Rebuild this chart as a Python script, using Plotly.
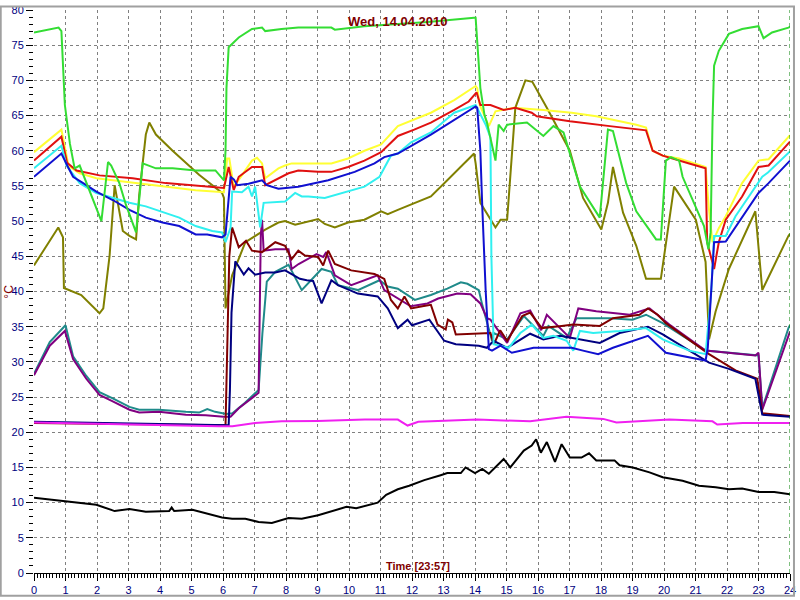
import plotly.graph_objects as go

# ---------------- data (hours, °C) ----------------
green_t = [0, 0.78, 0.87, 0.98, 1.14, 1.29, 1.45, 1.77, 2.14, 2.35, 2.45, 2.71, 2.92, 3.24, 3.45, 3.87, 4.4, 5.13, 5.76, 6.03, 6.08, 6.11, 6.18, 6.5, 6.92, 7.24, 7.34, 7.86, 8.39, 9.44, 9.55, 10.49, 11.55, 12.5, 13.97, 14.02, 14.17, 14.3, 14.38, 14.65, 14.75, 14.91, 15.02, 15.65, 16.17, 16.49, 16.81, 17.33, 17.96, 18.22, 18.38, 18.8, 19.12, 19.75, 19.9, 20.06, 20.22, 20.48, 20.59, 21.01, 21.27, 21.41, 21.48, 21.54, 21.59, 21.74, 22.06, 22.48, 23.0, 23.16, 23.43, 23.95, 24]
green_v = [76.8, 77.5, 77.0, 66.5, 61.0, 57.5, 57.9, 54.2, 50.0, 58.4, 57.9, 55.4, 52.3, 48.4, 58.2, 57.5, 57.5, 57.2, 57.2, 55.8, 60.0, 68.9, 74.7, 76.1, 77.3, 77.5, 77.0, 77.3, 77.5, 77.5, 77.2, 77.7, 78.0, 78.3, 78.9, 78.9, 68.9, 65.1, 64.0, 58.6, 63.7, 62.8, 63.7, 64.0, 62.1, 63.5, 62.6, 54.9, 50.5, 63.0, 62.8, 55.4, 51.4, 47.4, 47.4, 58.6, 59.1, 58.6, 56.3, 52.1, 49.3, 46.0, 48.4, 64.2, 72.1, 74.2, 76.6, 77.3, 77.7, 76.0, 76.8, 77.5, 77.6]

yellow_t = [0, 0.87, 1.1, 1.45, 1.98, 3.03, 4.08, 5.13, 6.03, 6.13, 6.2, 6.34, 6.6, 6.92, 7.08, 7.24, 7.34, 7.76, 7.97, 8.18, 9.44, 9.97, 10.49, 11.02, 11.55, 12.07, 12.6, 13.34, 14.02, 14.07, 14.15, 14.44, 14.65, 15.23, 16.17, 17.07, 17.85, 19.12, 19.43, 19.64, 19.96, 20.48, 21.32, 21.42, 21.54, 21.74, 21.96, 22.48, 23.0, 23.32, 23.95, 24]
yellow_v = [59.8, 63.0, 57.8, 56.8, 56.1, 55.5, 54.9, 54.4, 54.1, 58.9, 58.9, 54.9, 56.5, 58.6, 59.0, 58.2, 56.1, 57.5, 57.9, 58.2, 58.2, 58.9, 60.0, 60.9, 63.5, 64.4, 65.4, 67.2, 69.2, 68.9, 66.5, 63.5, 65.6, 66.1, 65.8, 65.4, 64.9, 63.7, 63.3, 60.0, 59.3, 58.9, 57.7, 52.0, 47.0, 49.0, 50.7, 55.4, 58.6, 58.8, 61.9, 62.2]

red_t = [0, 0.87, 1.05, 1.35, 2.08, 3.13, 4.18, 5.24, 6.03, 6.18, 6.34, 6.5, 6.92, 7.24, 7.34, 8.08, 8.39, 9.02, 9.44, 9.97, 10.49, 11.02, 11.55, 12.07, 12.6, 13.34, 13.8, 14.05, 14.17, 14.49, 14.91, 15.28, 15.8, 15.96, 17.01, 18.28, 19.43, 19.64, 19.96, 20.8, 21.32, 21.37, 21.59, 21.74, 21.96, 22.48, 23.0, 23.32, 23.95, 24]
red_v = [58.6, 62.0, 58.3, 57.2, 56.5, 56.1, 55.4, 55.0, 54.7, 57.7, 54.4, 56.3, 57.7, 57.7, 55.1, 56.8, 57.2, 57.0, 57.0, 57.7, 58.6, 59.8, 62.1, 63.0, 64.0, 65.8, 67.0, 68.3, 66.5, 66.5, 65.8, 66.1, 65.4, 64.9, 64.2, 63.5, 62.9, 60.0, 59.3, 58.2, 57.5, 47.0, 43.2, 47.0, 50.2, 53.5, 57.7, 57.9, 61.0, 61.3]

cyan_t = [0, 0.87, 1.03, 1.45, 1.98, 2.5, 3.03, 3.55, 4.08, 4.61, 5.13, 5.66, 5.97, 6.08, 6.24, 6.29, 6.6, 6.81, 6.92, 7.02, 7.18, 7.29, 7.97, 8.29, 8.5, 8.71, 9.23, 10.49, 10.97, 11.33, 11.55, 11.97, 12.6, 13.34, 14.02, 14.34, 14.49, 14.52, 14.59, 15.07, 15.44, 15.8, 16.17, 16.49, 16.91, 17.12, 17.33, 17.75, 18.59, 19.43, 19.96, 20.8, 21.32, 21.5, 21.59, 21.96, 22.27, 23.12, 23.3, 23.95, 24]
cyan_v = [57.5, 60.7, 57.9, 55.4, 54.0, 53.3, 52.6, 52.1, 51.3, 50.5, 49.3, 48.6, 48.4, 47.0, 49.1, 54.2, 54.1, 54.9, 53.5, 54.9, 49.1, 52.6, 52.8, 54.0, 53.5, 53.5, 53.3, 54.9, 56.3, 59.3, 59.6, 61.2, 62.6, 65.4, 66.5, 63.7, 61.9, 45.0, 32.5, 32.0, 34.1, 35.3, 33.4, 33.7, 33.0, 31.6, 34.4, 34.1, 34.4, 34.8, 33.2, 31.6, 31.1, 40.0, 47.9, 47.9, 50.7, 56.3, 56.9, 59.6, 59.9]

blue_t = [0, 0.87, 1.08, 1.24, 1.56, 1.98, 2.5, 3.03, 3.55, 4.08, 4.61, 5.13, 5.5, 5.97, 6.08, 6.15, 6.24, 6.35, 6.45, 6.81, 7.24, 7.39, 7.76, 8.39, 9.34, 10.18, 10.81, 11.12, 11.55, 12.6, 13.34, 14.02, 14.07, 14.17, 14.23, 14.34, 14.44, 14.54, 14.81, 15.17, 15.86, 16.49, 17.07, 17.43, 17.91, 18.38, 19.49, 20.06, 21.32, 21.39, 21.48, 21.59, 21.96, 22.37, 23.0, 23.32, 23.95, 24]
blue_v = [56.3, 59.6, 57.7, 56.3, 55.4, 54.2, 53.0, 51.6, 50.5, 49.8, 49.3, 48.1, 48.1, 47.7, 48.1, 52.0, 56.3, 55.9, 55.1, 55.3, 55.8, 55.1, 54.6, 54.9, 55.8, 57.0, 58.2, 59.1, 59.6, 62.3, 64.4, 66.3, 66.1, 60.0, 52.1, 40.0, 31.8, 31.6, 32.3, 31.3, 32.0, 32.0, 32.0, 31.6, 31.1, 32.0, 33.7, 31.3, 30.2, 32.0, 38.6, 47.0, 47.1, 49.8, 54.0, 55.4, 58.3, 58.6]

olive_t = [0, 0.77, 0.92, 0.95, 1.5, 2.08, 2.2, 2.4, 2.56, 2.82, 3.03, 3.24, 3.34, 3.55, 3.66, 3.87, 4.4, 5.24, 5.97, 6.03, 6.08, 6.29, 6.71, 7.34, 7.76, 7.97, 8.29, 9.02, 9.23, 9.55, 9.97, 10.49, 11.02, 11.23, 11.55, 12.6, 13.12, 13.97, 14.02, 14.17, 14.65, 14.81, 15.02, 15.28, 15.6, 15.82, 16.28, 17.01, 17.43, 18.01, 18.22, 18.38, 18.7, 19.12, 19.43, 19.9, 20.32, 21.01, 21.32, 21.43, 21.64, 22.06, 22.9, 23.12, 23.95, 24]
olive_v = [43.7, 49.1, 47.7, 40.5, 39.5, 36.9, 37.6, 45.1, 55.1, 48.6, 47.9, 47.4, 53.7, 62.3, 64.0, 62.3, 60.0, 56.6, 54.0, 53.3, 37.6, 42.3, 47.0, 48.8, 49.8, 50.0, 49.5, 50.3, 49.6, 49.1, 49.8, 50.2, 51.4, 51.0, 51.6, 53.5, 55.8, 59.6, 58.2, 52.6, 49.1, 50.2, 50.2, 66.1, 70.0, 69.8, 66.1, 60.0, 53.3, 48.8, 52.6, 57.7, 51.2, 46.5, 41.8, 41.8, 54.9, 50.2, 44.2, 33.2, 37.2, 43.2, 51.4, 40.2, 47.9, 48.2]

maroon_t = [0, 6.08, 6.2, 6.29, 6.5, 6.73, 6.92, 7.24, 7.66, 7.97, 8.18, 8.39, 8.6, 9.02, 9.18, 9.34, 9.55, 10.07, 10.81, 11.12, 11.33, 11.55, 11.76, 11.97, 12.33, 12.6, 12.81, 13.07, 13.14, 13.28, 13.39, 14.17, 14.49, 14.6, 14.8, 15.02, 15.5, 15.75, 16.12, 16.75, 17.12, 17.96, 18.38, 19.22, 19.49, 19.8, 20.06, 21.43, 22.27, 22.96, 23.12, 24]
maroon_v = [21.3, 21.0, 45.0, 49.1, 46.3, 47.2, 45.8, 45.6, 47.0, 46.5, 44.6, 45.8, 45.1, 44.9, 43.7, 45.8, 43.9, 43.0, 42.5, 41.8, 38.8, 37.6, 39.3, 37.6, 37.9, 38.1, 35.3, 34.6, 36.0, 35.6, 33.9, 34.1, 34.1, 32.5, 34.5, 33.0, 36.5, 37.0, 34.8, 35.1, 35.3, 35.1, 36.2, 36.7, 37.6, 36.7, 35.5, 31.1, 28.8, 27.6, 22.7, 22.3]

navy_t = [0, 6.18, 6.22, 6.27, 6.39, 6.66, 6.81, 7.02, 7.34, 7.66, 7.97, 8.44, 8.66, 8.86, 9.13, 9.44, 9.65, 10.28, 10.91, 11.23, 11.55, 11.86, 12.0, 12.55, 13.02, 13.39, 14.12, 14.38, 14.59, 15.02, 15.75, 16.17, 16.7, 17.12, 17.96, 18.59, 19.49, 19.96, 21.43, 22.06, 22.9, 23.12, 24]
navy_v = [21.5, 21.0, 26.0, 37.0, 44.3, 42.4, 43.3, 42.4, 42.7, 42.7, 43.0, 41.8, 41.6, 41.5, 38.3, 41.6, 40.9, 39.7, 39.3, 37.6, 34.8, 36.0, 35.2, 36.0, 33.0, 32.5, 32.3, 32.0, 33.0, 32.0, 34.0, 33.2, 33.7, 33.4, 32.7, 34.1, 35.0, 33.9, 29.9, 29.0, 27.6, 22.5, 22.2]

purple_t = [0, 0.5, 0.98, 1.24, 1.66, 2.08, 2.5, 3.03, 3.34, 3.97, 4.82, 5.45, 6.02, 6.24, 6.5, 7.13, 7.2, 7.24, 7.29, 7.66, 8.08, 8.18, 8.4, 8.97, 9.18, 9.28, 9.55, 10.07, 10.91, 11.12, 11.96, 12.49, 12.83, 13.44, 13.86, 14.17, 14.38, 14.49, 15.02, 15.44, 15.75, 16.1, 16.28, 17.01, 17.28, 17.85, 18.91, 19.54, 20.17, 21.32, 22.9, 23.0, 23.12, 23.95, 24]
purple_v = [28.1, 32.3, 34.4, 30.4, 27.6, 25.3, 24.4, 23.2, 22.8, 22.9, 22.5, 22.4, 22.2, 22.2, 23.4, 25.6, 48.0, 50.2, 45.8, 46.0, 46.0, 43.2, 43.9, 45.3, 44.9, 45.6, 42.3, 40.9, 42.3, 40.2, 37.9, 38.3, 39.0, 39.7, 39.6, 38.3, 36.2, 36.0, 32.7, 36.9, 37.3, 34.5, 36.7, 33.4, 37.6, 37.2, 36.7, 37.6, 35.3, 31.6, 30.9, 31.3, 23.2, 33.9, 34.3]

teal_t = [0, 0.5, 1.0, 1.24, 1.66, 2.08, 2.5, 3.03, 3.34, 3.97, 4.82, 5.24, 5.5, 5.75, 6.1, 6.3, 6.7, 7.13, 7.25, 7.39, 7.66, 8.08, 8.5, 9.13, 9.44, 9.65, 10.28, 10.97, 11.23, 11.55, 12.09, 12.6, 13.12, 13.55, 13.76, 14.12, 14.23, 14.54, 14.59, 15.02, 15.55, 16.17, 16.33, 16.91, 17.22, 18.28, 19.0, 19.43, 19.96, 21.32, 23.0, 23.12, 23.95, 24]
teal_v = [28.3, 32.8, 35.2, 30.8, 28.0, 25.7, 24.8, 23.6, 23.2, 23.2, 22.9, 22.8, 23.3, 22.9, 22.6, 22.7, 24.2, 26.0, 34.0, 41.4, 42.8, 43.8, 40.2, 43.2, 42.8, 40.9, 40.2, 41.6, 40.7, 40.4, 38.8, 39.5, 40.4, 41.3, 41.1, 40.2, 38.1, 33.0, 34.1, 33.2, 36.5, 33.7, 35.1, 33.4, 36.2, 36.2, 36.0, 36.7, 35.5, 31.6, 30.9, 23.4, 34.8, 35.2]

magenta_t = [0, 2.08, 5.03, 5.87, 6.3, 7.02, 7.86, 9.0, 10.5, 11.55, 11.86, 12.2, 14.07, 15.75, 16.9, 18.07, 18.49, 20.17, 21.54, 21.69, 22.5, 23.95, 24]
magenta_v = [21.4, 21.2, 20.85, 20.85, 20.85, 21.3, 21.55, 21.6, 21.8, 21.8, 20.95, 21.5, 21.8, 21.55, 22.2, 21.9, 21.4, 21.8, 21.55, 21.1, 21.3, 21.3, 21.3]

black_t = [0, 1.03, 1.98, 2.56, 3.03, 3.55, 4.29, 4.37, 4.45, 5.03, 5.45, 5.97, 6.29, 6.71, 7.13, 7.55, 8.08, 8.5, 9.02, 9.55, 9.92, 10.23, 10.6, 10.91, 11.18, 11.55, 11.91, 12.39, 12.91, 13.12, 13.55, 13.7, 14.0, 14.23, 14.44, 14.7, 14.91, 15.12, 15.55, 15.8, 15.94, 16.09, 16.28, 16.54, 16.75, 17.01, 17.38, 17.62, 17.85, 18.43, 18.59, 19.01, 19.54, 19.96, 20.59, 21.11, 21.64, 22.06, 22.48, 23.0, 23.5, 24]
black_v = [10.7, 10.2, 9.7, 8.8, 9.1, 8.7, 8.8, 9.3, 8.8, 9.0, 8.5, 7.9, 7.7, 7.7, 7.25, 7.1, 7.8, 7.7, 8.2, 8.9, 9.4, 9.2, 9.6, 10.0, 11.1, 11.9, 12.4, 13.2, 13.9, 14.2, 14.2, 15.0, 14.2, 14.8, 14.1, 15.3, 16.2, 15.0, 17.4, 18.1, 19.0, 17.1, 18.6, 15.8, 18.3, 16.4, 16.4, 17.0, 16.0, 16.0, 15.3, 15.0, 14.3, 13.6, 13.1, 12.4, 12.2, 11.9, 12.0, 11.5, 11.5, 11.2]

x_ticks = list(range(0, 25))
y_ticks = list(range(0, 81, 5))
title_text = "Wed, 14.04.2010"
time_text = "Time [23:57]"
unit_text = "°C"

# ---------------- figure ----------------
series = [
    (olive_t, olive_v, "#808000"),
    (teal_t, teal_v, "#1f8a8a"),
    (purple_t, purple_v, "#800080"),
    (maroon_t, maroon_v, "#800000"),
    (navy_t, navy_v, "#000080"),
    (magenta_t, magenta_v, "#f020f0"),
    (black_t, black_v, "#000000"),
    (yellow_t, yellow_v, "#ffff33"),
    (red_t, red_v, "#e01010"),
    (cyan_t, cyan_v, "#30f0f0"),
    (blue_t, blue_v, "#1010d0"),
    (green_t, green_v, "#33dd33"),
]

fig = go.Figure()
for t, v, c in series:
    fig.add_trace(go.Scatter(x=t, y=v, mode="lines",
                             line=dict(color=c, width=2),
                             showlegend=False, hoverinfo="skip"))

W, H = 800, 600
L, R, T, B = 34, 5, 4, 24
pw, ph = W - L - R, H - T - B

axis_common = dict(ticks="outside", ticklen=7, tickcolor="black", tickwidth=1,
                   showgrid=True, gridcolor="#808080", gridwidth=1, griddash="3px,3px",
                   zeroline=False, tickfont=dict(color="#000080", size=11),
                   ticklabeloverflow="allow")

fig.update_layout(
    width=W, height=H,
    margin=dict(l=L, r=R, t=T, b=B, pad=0),
    paper_bgcolor="white", plot_bgcolor="white",
    font=dict(family="Liberation Sans, Arial, sans-serif", size=11, color="#000080"),
    xaxis=dict(range=[0, 24], tickvals=x_ticks, ticktext=[str(v) for v in x_ticks],
               showline=True, linecolor="black", linewidth=1,
               minor=dict(dtick=0.1, tick0=0, ticks="outside", ticklen=4,
                          tickcolor="black", showgrid=False),
               **axis_common),
    yaxis=dict(range=[0, 80], tickvals=y_ticks, ticktext=[str(v) for v in y_ticks],
               showline=False,
               minor=dict(dtick=1, tick0=0, ticks="outside", ticklen=4,
                          tickcolor="black", showgrid=False),
               **axis_common),
    annotations=[
        dict(text="<b>" + title_text + "</b>", xref="paper", yref="paper",
             x=(400 - L) / pw, y=1 - (16 - T) / ph, xanchor="center", yanchor="middle",
             showarrow=False, font=dict(size=13, color="#800000",
                                        family="Liberation Sans, Arial, sans-serif")),
        dict(text="<b>" + time_text + "</b>", xref="paper", yref="paper",
             x=(421 - L) / pw, y=(H - B - 569) / ph, xanchor="center", yanchor="middle",
             showarrow=False, font=dict(size=11, color="#800000",
                                        family="Liberation Sans, Arial, sans-serif")),
        dict(text=unit_text, xref="paper", yref="paper", textangle=-90,
             x=(8 - L) / pw, y=(H - B - 290) / ph, xanchor="center", yanchor="middle",
             showarrow=False, font=dict(size=12, color="#800000",
                                        family="Liberation Sans, Arial, sans-serif")),
    ],
    shapes=[
        dict(type="line", xref="x", yref="paper", x0=24, x1=24, y0=0, y1=1,
             line=dict(color="#008000", width=1, dash="4px,3px")),
        dict(type="rect", xref="paper", yref="paper",
             x0=(-L + 0.5) / pw, x1=(W - L - 1) / pw,
             y0=-(B - 1) / ph, y1=1 + (T - 0.5) / ph,
             line=dict(color="#a0a0a0", width=2), layer="above"),
    ],
)

fig.write_html("out.html", config={"displayModeBar": False},
               post_script="document.body.style.margin='0px';")
